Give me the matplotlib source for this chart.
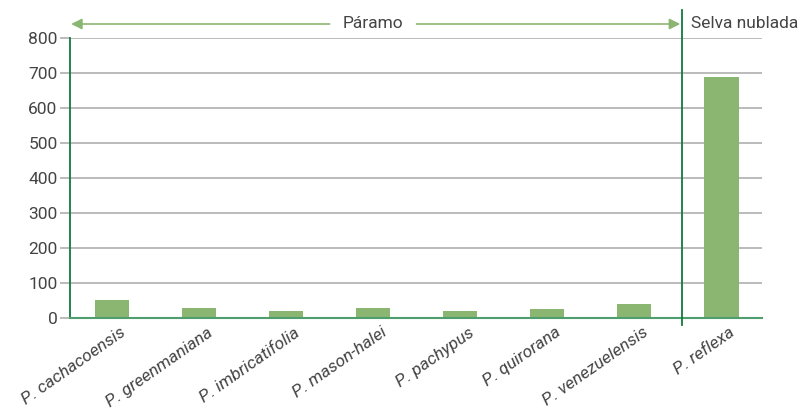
import matplotlib.pyplot as plt
import matplotlib.transforms as mtransforms
import numpy as np

plt.rcParams['font.family'] = ['Roboto', 'DejaVu Sans']

especies = ['P. cachacoensis', 'P. greenmaniana', 'P. imbricatifolia', 'P. mason-halei',
            'P. pachypus', 'P. quirorana', 'P. venezuelensis', 'P. reflexa']
valores = [52, 29, 20, 29, 20, 26, 41, 689]
y_ticks = [0, 100, 200, 300, 400, 500, 600, 700, 800]

verde_barra = '#8bb671'
verde_oscuro = '#137a3e'
gris_txt = '#444444'

fig = plt.figure(figsize=(8.06, 4.17), dpi=100)
ax = fig.add_axes([70 / 806, 1 - 318 / 417, 692 / 806, 280 / 417])

x = np.arange(len(especies))
ax.bar(x, valores, width=0.4, color=verde_barra, zorder=3)

ax.set_xlim(-0.483, 7.47)
ax.set_ylim(0, 800)
ax.set_yticks(y_ticks)
ax.yaxis.grid(True, color='#a8a8a8', linewidth=1.1, zorder=0)
ax.tick_params(axis='y', length=7, color='#a8a8a8', width=1.1, labelsize=12.5,
               labelcolor=gris_txt, pad=2)
ax.tick_params(axis='x', length=0, pad=5)
ax.set_xticks(x)
ax.set_xticklabels(especies, rotation=35, ha='right', rotation_mode='anchor',
                   fontsize=12.5, color=gris_txt, style='italic')
desplaza = mtransforms.ScaledTranslation(0.08, 0, fig.dpi_scale_trans)
for lbl in ax.get_xticklabels():
    lbl.set_transform(lbl.get_transform() + desplaza)

for s in ['top', 'right']:
    ax.spines[s].set_visible(False)
ax.spines['left'].set_color(verde_oscuro)
ax.spines['left'].set_linewidth(1.3)
ax.spines['bottom'].set_color('#4e9e6e')
ax.spines['bottom'].set_linewidth(1.5)
ax.spines['bottom'].set_zorder(4)

# linea divisoria paramo / selva nublada
div = 6.55
ax.plot([div, div], [-20, 880], color=verde_oscuro, linewidth=1.3, clip_on=False, zorder=5)

# flechas superiores
y_flecha = 840
ax.annotate('', xy=(-0.47, y_flecha), xytext=(2.5, y_flecha), xycoords='data',
            arrowprops=dict(arrowstyle='-|>', color=verde_barra, lw=1.2,
                            mutation_scale=16, shrinkA=0, shrinkB=0),
            annotation_clip=False)
ax.annotate('', xy=(div - 0.02, y_flecha), xytext=(3.5, y_flecha), xycoords='data',
            arrowprops=dict(arrowstyle='-|>', color=verde_barra, lw=1.2,
                            mutation_scale=16, shrinkA=0, shrinkB=0),
            annotation_clip=False)
ax.text(3.0, y_flecha, 'Páramo', ha='center', va='center', fontsize=12.5,
        color=gris_txt, clip_on=False)
ax.text(div + 0.1, y_flecha, 'Selva nublada', ha='left', va='center', fontsize=12.5,
        color=gris_txt, clip_on=False)

fig.savefig('out.png', dpi=100)
